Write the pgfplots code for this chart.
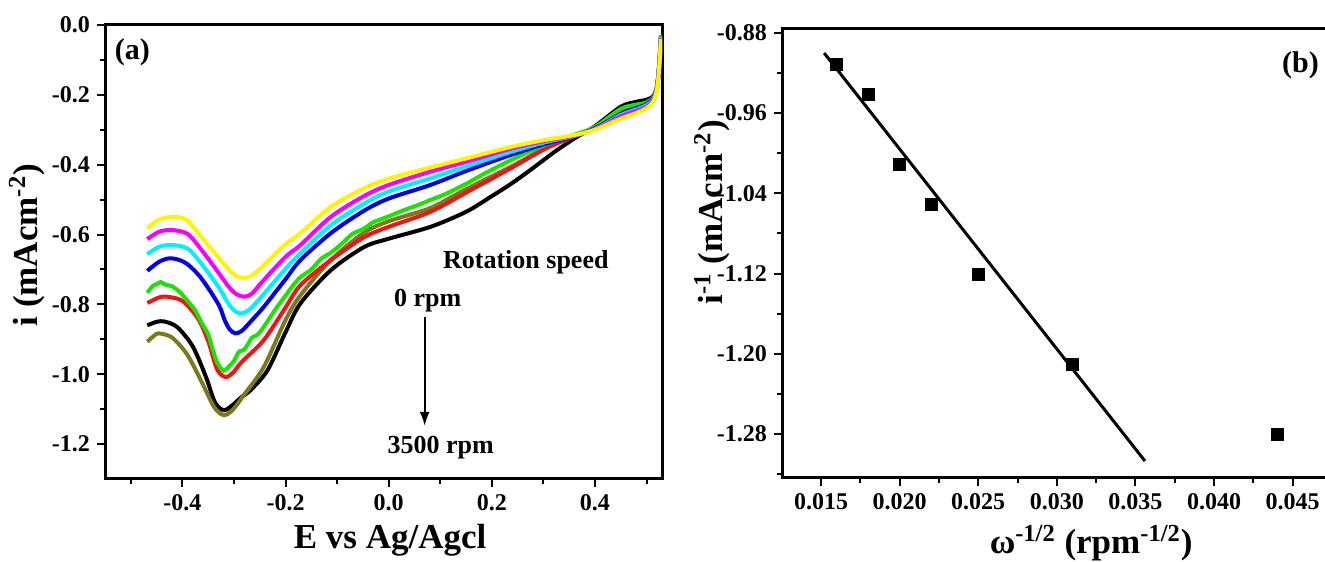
\documentclass[border=0pt]{standalone}
\usepackage{fontspec}
\setmainfont{Liberation Serif}
\usepackage{pgfplots}
\pgfplotsset{compat=1.18}
\usetikzlibrary{arrows.meta}
\definecolor{cyel}{RGB}{255,245,0}
\definecolor{cmag}{RGB}{250,0,250}
\definecolor{ccya}{RGB}{0,240,255}
\definecolor{cblu}{RGB}{0,0,230}
\definecolor{cgre}{RGB}{30,225,10}
\definecolor{cred}{RGB}{240,20,20}
\definecolor{coli}{RGB}{125,120,25}
\pgfplotsset{mystyle/.style={scale only axis, axis line style={line width=1.5pt},
  tick style={line width=1pt, black}, major tick length=4pt, minor tick length=2.5pt,
  tick align=outside, tick pos=left,
  /pgf/number format/assume math mode=true,
  ticklabel style={font=\fontsize{12}{14}\selectfont\bfseries},
  label style={font=\fontsize{17.5}{20}\selectfont\bfseries},
  scaled x ticks=false, scaled y ticks=false}}
\begin{document}
\begin{tikzpicture}
\useasboundingbox (0,0) rectangle (662.5pt,280.5pt);
\clip (0,0) rectangle (662.5pt,280.5pt);
\begin{axis}[mystyle, at={(52.5pt,41pt)}, anchor=south west, width=278.5pt, height=227pt,
  xmin=-0.55, xmax=0.53, ymin=-1.3, ymax=0,
  xtick={-0.4,-0.2,0,0.2,0.4}, minor xtick={-0.5,-0.3,-0.1,0.1,0.3,0.5},
  ytick={-1.2,-1,-0.8,-0.6,-0.4,-0.2,0}, minor ytick={-1.1,-0.9,-0.7,-0.5,-0.3,-0.1},
  xticklabel style={/pgf/number format/.cd, fixed, fixed zerofill, precision=1},
  yticklabel style={/pgf/number format/.cd, fixed, fixed zerofill, precision=1},
  xlabel={E vs Ag/Agcl}, ylabel={i (mAcm\textsuperscript{-2})},
  xlabel style={at={(rel axis cs:0.512,-0.134)}, anchor=center},
  ylabel style={at={(rel axis cs:-0.14,0.515)}, anchor=center},
  every axis plot/.append style={line width=2pt, smooth}]
% black
\addplot[black] coordinates {(-0.468,-0.860) (-0.45,-0.850) (-0.435,-0.849) (-0.41,-0.865) (-0.38,-0.920) (-0.355,-1.005) (-0.337,-1.080) (-0.32,-1.103) (-0.304,-1.090) (-0.285,-1.065) (-0.268,-1.046) (-0.235,-0.989) (-0.20,-0.880) (-0.171,-0.797) (-0.112,-0.702) (-0.048,-0.636) (0.0,-0.612) (0.081,-0.578) (0.15,-0.535) (0.20,-0.490) (0.237,-0.455) (0.275,-0.415) (0.32,-0.365) (0.36,-0.325) (0.40,-0.290) (0.45,-0.234) (0.48,-0.220) (0.50,-0.214) (0.512,-0.205) (0.519,-0.185) (0.523,-0.140) (0.526,-0.080) (0.528,-0.030)};
% olive
\addplot[coli] coordinates {(-0.468,-0.907) (-0.455,-0.890) (-0.446,-0.883) (-0.42,-0.895) (-0.39,-0.945) (-0.36,-1.030) (-0.338,-1.095) (-0.32,-1.117) (-0.303,-1.103) (-0.28,-1.058) (-0.242,-0.979) (-0.20,-0.845) (-0.171,-0.774) (-0.112,-0.673) (-0.048,-0.595) (0.0,-0.562) (0.081,-0.524) (0.15,-0.470) (0.237,-0.406) (0.30,-0.355) (0.36,-0.318) (0.40,-0.296) (0.45,-0.252) (0.48,-0.236) (0.50,-0.226) (0.512,-0.212) (0.519,-0.188) (0.523,-0.143) (0.526,-0.085) (0.528,-0.030)};
% red
\addplot[cred] coordinates {(-0.468,-0.796) (-0.445,-0.780) (-0.43,-0.778) (-0.40,-0.790) (-0.37,-0.840) (-0.35,-0.905) (-0.333,-0.985) (-0.317,-1.008) (-0.302,-0.996) (-0.285,-0.965) (-0.242,-0.902) (-0.20,-0.809) (-0.171,-0.745) (-0.112,-0.673) (-0.048,-0.608) (0.0,-0.578) (0.081,-0.535) (0.15,-0.480) (0.237,-0.410) (0.30,-0.357) (0.36,-0.318) (0.40,-0.296) (0.45,-0.250) (0.48,-0.235) (0.50,-0.226) (0.512,-0.212) (0.519,-0.188) (0.523,-0.143) (0.526,-0.085) (0.528,-0.035)};
% green
\addplot[cgre] coordinates {(-0.468,-0.767) (-0.458,-0.748) (-0.450,-0.742) (-0.442,-0.736) (-0.432,-0.744) (-0.42,-0.748) (-0.405,-0.765) (-0.39,-0.790) (-0.375,-0.818) (-0.36,-0.860) (-0.35,-0.885) (-0.34,-0.935) (-0.332,-0.968) (-0.32,-0.990) (-0.308,-0.975) (-0.30,-0.962) (-0.29,-0.935) (-0.28,-0.930) (-0.265,-0.895) (-0.255,-0.888) (-0.242,-0.864) (-0.22,-0.815) (-0.20,-0.775) (-0.185,-0.745) (-0.171,-0.722) (-0.15,-0.700) (-0.13,-0.668) (-0.112,-0.652) (-0.09,-0.625) (-0.07,-0.598) (-0.048,-0.583) (-0.03,-0.565) (0.0,-0.548) (0.03,-0.530) (0.06,-0.514) (0.081,-0.501) (0.11,-0.484) (0.15,-0.455) (0.19,-0.422) (0.237,-0.387) (0.30,-0.345) (0.36,-0.314) (0.40,-0.292) (0.45,-0.240) (0.48,-0.228) (0.50,-0.222) (0.512,-0.208) (0.519,-0.185) (0.523,-0.140) (0.526,-0.080) (0.528,-0.030)};
% blue
\addplot[cblu] coordinates {(-0.468,-0.704) (-0.445,-0.678) (-0.423,-0.668) (-0.395,-0.680) (-0.365,-0.722) (-0.33,-0.800) (-0.318,-0.845) (-0.308,-0.872) (-0.297,-0.883) (-0.284,-0.875) (-0.265,-0.845) (-0.242,-0.807) (-0.20,-0.728) (-0.171,-0.673) (-0.112,-0.596) (-0.048,-0.532) (0.0,-0.497) (0.081,-0.458) (0.15,-0.418) (0.237,-0.372) (0.30,-0.342) (0.36,-0.318) (0.40,-0.296) (0.45,-0.255) (0.48,-0.238) (0.50,-0.227) (0.512,-0.212) (0.519,-0.188) (0.523,-0.143) (0.526,-0.085) (0.528,-0.035)};
% cyan
\addplot[ccya] coordinates {(-0.468,-0.656) (-0.445,-0.635) (-0.42,-0.630) (-0.39,-0.640) (-0.365,-0.680) (-0.33,-0.750) (-0.312,-0.795) (-0.30,-0.817) (-0.287,-0.826) (-0.273,-0.818) (-0.255,-0.792) (-0.20,-0.698) (-0.171,-0.654) (-0.112,-0.573) (-0.048,-0.512) (0.0,-0.477) (0.081,-0.439) (0.15,-0.405) (0.237,-0.363) (0.30,-0.337) (0.36,-0.317) (0.40,-0.298) (0.45,-0.258) (0.48,-0.242) (0.50,-0.230) (0.512,-0.215) (0.519,-0.190) (0.523,-0.145) (0.526,-0.085) (0.528,-0.035)};
% magenta
\addplot[cmag] coordinates {(-0.468,-0.613) (-0.445,-0.592) (-0.42,-0.587) (-0.39,-0.598) (-0.365,-0.640) (-0.332,-0.705) (-0.31,-0.750) (-0.295,-0.771) (-0.28,-0.778) (-0.265,-0.769) (-0.245,-0.735) (-0.20,-0.664) (-0.171,-0.630) (-0.112,-0.549) (-0.048,-0.490) (0.0,-0.458) (0.081,-0.420) (0.15,-0.392) (0.237,-0.354) (0.30,-0.333) (0.36,-0.316) (0.40,-0.298) (0.45,-0.262) (0.48,-0.246) (0.50,-0.234) (0.512,-0.218) (0.519,-0.192) (0.523,-0.148) (0.526,-0.088) (0.528,-0.038)};
% yellow
\addplot[cyel] coordinates {(-0.468,-0.582) (-0.445,-0.557) (-0.415,-0.549) (-0.39,-0.560) (-0.365,-0.604) (-0.332,-0.662) (-0.31,-0.700) (-0.295,-0.719) (-0.28,-0.725) (-0.265,-0.717) (-0.245,-0.692) (-0.20,-0.628) (-0.171,-0.596) (-0.112,-0.520) (-0.048,-0.468) (0.0,-0.440) (0.081,-0.408) (0.15,-0.382) (0.237,-0.349) (0.30,-0.330) (0.36,-0.315) (0.40,-0.300) (0.45,-0.268) (0.48,-0.252) (0.50,-0.238) (0.512,-0.222) (0.519,-0.195) (0.523,-0.150) (0.526,-0.090) (0.528,-0.040)};
\node[font=\fontsize{15}{17}\selectfont\bfseries] at (axis cs:-0.497,-0.077) {(a)};
\node[font=\fontsize{13}{15}\selectfont\bfseries] at (axis cs:0.266,-0.679) {Rotation speed};
\node[font=\fontsize{13}{15}\selectfont\bfseries] at (axis cs:0.0756,-0.788) {0 rpm};
\node[font=\fontsize{13}{15}\selectfont\bfseries] at (axis cs:0.101,-1.209) {3500 rpm};
\draw[-{Latex[length=7pt,width=5pt]}, line width=1.1pt] (axis cs:0.0698,-0.835) -- (axis cs:0.0698,-1.148);
\end{axis}
\begin{axis}[mystyle, at={(391pt,41.5pt)}, anchor=south west, width=275pt, height=224.5pt,
  xmin=0.01252, xmax=0.0475, ymin=-1.324, ymax=-0.876,
  xtick={0.015,0.020,0.025,0.030,0.035,0.040,0.045},
  minor xtick={0.0175,0.0225,0.0275,0.0325,0.0375,0.0425},
  ytick={-1.28,-1.20,-1.12,-1.04,-0.96,-0.88},
  minor ytick={-1.32,-1.24,-1.16,-1.08,-1.00,-0.92},
  xticklabel style={/pgf/number format/.cd, fixed, fixed zerofill, precision=3},
  yticklabel style={/pgf/number format/.cd, fixed, fixed zerofill, precision=2},
  xlabel={ω\textsuperscript{-1/2} (rpm\textsuperscript{-1/2})},
  ylabel={i\textsuperscript{-1} (mAcm\textsuperscript{-2})},
  xlabel style={at={(rel axis cs:0.562,-0.145)}, anchor=center},
  ylabel style={at={(rel axis cs:-0.127,0.592)}, anchor=center}]
\addplot[black, line width=1.5pt] coordinates {(0.0152,-0.900) (0.0356,-1.307)};
\addplot[only marks, mark=square*, mark size=3pt, black] coordinates {(0.016,-0.911) (0.018,-0.941) (0.020,-1.011) (0.022,-1.051) (0.025,-1.121) (0.031,-1.211) (0.044,-1.280)};
\node[font=\fontsize{15}{17}\selectfont\bfseries] at (axis cs:0.0455,-0.912) {(b)};
\end{axis}
\end{tikzpicture}
\end{document}
